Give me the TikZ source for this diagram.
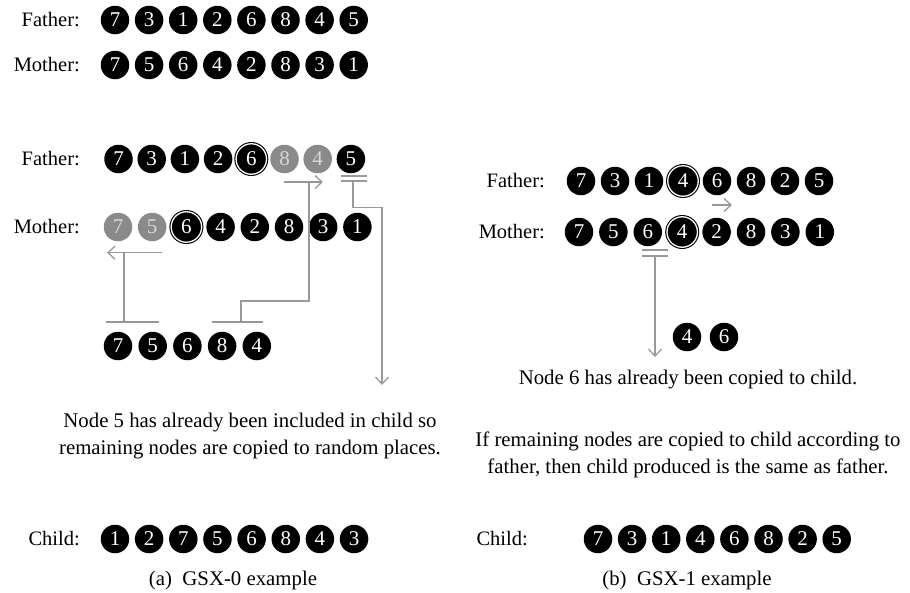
\documentclass[tikz,border=0pt]{standalone}
\usepackage{fontspec}
\setmainfont{Liberation Serif}
\usetikzlibrary{arrows.meta}
\definecolor{lgray}{HTML}{999999}
\definecolor{bgray}{HTML}{8A8A8A}
\definecolor{tgray}{HTML}{D8D8D8}
\tikzset{
 ball/.style={circle, fill=black, text=white, inner sep=0pt, minimum size=28.5pt, font=\fontsize{21}{21}\selectfont},
 gball/.style={ball, fill=bgray, text=tgray},
 dball/.style={ball, minimum size=30.5pt, draw=black, double=white, double distance=1.3pt, line width=1.1pt},
 lbl/.style={anchor=east, inner sep=0pt, font=\fontsize{20.5}{24}\selectfont},
 txt/.style={align=center, inner sep=0pt, font=\fontsize{20.8}{27}\selectfont},
 conn/.style={draw=lgray, line width=1.3pt},
 tip/.style={conn, -{Straight Barb[length=7pt,width=13pt]}}
}
\begin{document}
\begin{tikzpicture}[x=1pt,y=-1pt]
\useasboundingbox (0,0) rectangle (910,592);
% top rows
\node[lbl] (tfl) at (80,20) {Father:};
\node[lbl] (tml) at (80,65) {Mother:};
\foreach \v [count=\i] in {7,3,1,2,6,8,4,5}
  \node[ball] (tf\i) at ({115+34.1*(\i-1)},20) {\v};
\foreach \v [count=\i] in {7,5,6,4,2,8,3,1}
  \node[ball] (tm\i) at ({115+34.1*(\i-1)},65) {\v};
% group (a)
\node[lbl] (afl) at (80,159) {Father:};
\node[lbl] (aml) at (80,227) {Mother:};
\foreach \v/\s [count=\i] in {7/ball,3/ball,1/ball,2/ball,6/dball,8/gball,4/gball,5/ball}
  \node[\s] (af\i) at ({118.5+33.2*(\i-1)},159) {\v};
\foreach \v/\s [count=\i] in {7/gball,5/gball,6/dball,4/ball,2/ball,8/ball,3/ball,1/ball}
  \node[\s] (am\i) at ({118+34.2*(\i-1)},227) {\v};
\foreach \v [count=\i] in {7,5,6,8,4}
  \node[ball] (ap\i) at ({118+34.7*(\i-1)},346) {\v};
% connector A
\coordinate (a1l) at (106,322); \coordinate (a1r) at (159,322);
\coordinate (a1b) at (124,322); \coordinate (a1t) at (124,252.7);
\coordinate (a1s) at (162,252.7); \coordinate (a1e) at (107,252.7);
\draw[conn] (a1l) -- (a1r);
\draw[conn] (a1b) -- (a1t);
\draw[tip] (a1s) -- (a1e);
% connector B
\coordinate (b1l) at (212,322); \coordinate (b1r) at (263,322);
\coordinate (b1b) at (241,322); \coordinate (b1m) at (241,301);
\coordinate (b1n) at (309,301); \coordinate (b1t) at (309,182);
\coordinate (b1s) at (284,182); \coordinate (b1e) at (323,182);
\draw[conn] (b1l) -- (b1r);
\draw[conn] (b1b) -- (b1m) -- (b1n) -- (b1t);
\draw[tip] (b1s) -- (b1e);
% connector C
\coordinate (c1a) at (341,176); \coordinate (c1b) at (367,176);
\coordinate (c1c) at (341,181); \coordinate (c1d) at (367,181);
\coordinate (c1s) at (353,181); \coordinate (c1m) at (353,207.7);
\coordinate (c1n) at (382,207.7); \coordinate (c1e) at (382,385);
\draw[conn] (c1a) -- (c1b);
\draw[conn] (c1c) -- (c1d);
\draw[tip] (c1s) -- (c1m) -- (c1n) -- (c1e);
\node[txt] (atxt) at (250,436.5) {Node 5 has already been included in child so\\remaining nodes are copied to random places.};
\node[lbl] (acl) at (80,539) {Child:};
\foreach \v [count=\i] in {1,2,7,5,6,8,4,3}
  \node[ball] (ac\i) at ({115+34.15*(\i-1)},539) {\v};
\node[txt] (acap) at (233,580) {(a)\ \ GSX-0 example};
% group (b)
\node[lbl] (bfl) at (545,181) {Father:};
\node[lbl] (bml) at (545,232) {Mother:};
\foreach \v/\s [count=\i] in {7/ball,3/ball,1/ball,4/dball,6/ball,8/ball,2/ball,5/ball}
  \node[\s] (bf\i) at ({581+34*(\i-1)},181) {\v};
\foreach \v/\s [count=\i] in {7/ball,5/ball,6/ball,4/dball,2/ball,8/ball,3/ball,1/ball}
  \node[\s] (bm\i) at ({579+34.4*(\i-1)},232) {\v};
\coordinate (d1s) at (712,205); \coordinate (d1e) at (732,205);
\draw[tip] (d1s) -- (d1e);
\coordinate (e1a) at (642,250); \coordinate (e1b) at (668,250);
\coordinate (e1c) at (642,256); \coordinate (e1d) at (668,256);
\coordinate (e1s) at (655,256); \coordinate (e1e) at (655,357);
\draw[conn] (e1a) -- (e1b);
\draw[conn] (e1c) -- (e1d);
\draw[tip] (e1s) -- (e1e);
\node[ball] (bp1) at (687,337) {4};
\node[ball] (bp2) at (724,337) {6};
\node[txt] (btxt1) at (688,380) {Node 6 has already been copied to child.};
\node[txt] (btxt2) at (688,455) {If remaining nodes are copied to child according to\\father, then child produced is the same as father.};
\node[lbl] (bcl) at (528,539) {Child:};
\foreach \v [count=\i] in {7,3,1,4,6,8,2,5}
  \node[ball] (bc\i) at ({598+34.1*(\i-1)},539) {\v};
\node[txt] (bcap) at (687,580) {(b)\ \ GSX-1 example};
\end{tikzpicture}
\end{document}
